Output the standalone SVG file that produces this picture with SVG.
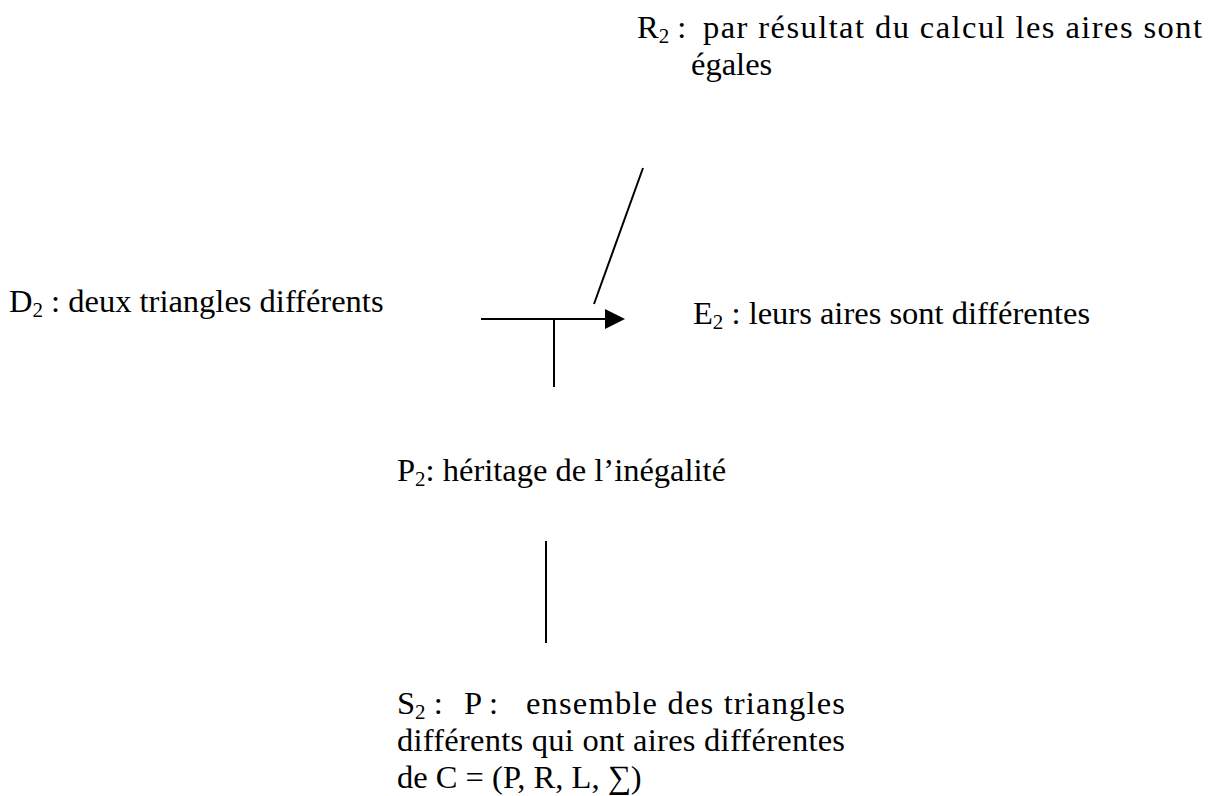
<svg xmlns="http://www.w3.org/2000/svg" width="1211" height="796" viewBox="0 0 1211 796">
<style>
text{font-family:"Liberation Serif","Times New Roman",serif;font-size:32.5px;fill:#000}
.sub{font-size:21px}
.ln{stroke:#000;stroke-width:2;fill:none}
</style>
<rect width="1211" height="796" fill="#fff"/>
<g id="connectors">
<line class="ln" x1="481" y1="319" x2="606" y2="319"/>
<path d="M605,309 L625,319 L605,329 Z" fill="#000"/>
<line class="ln" x1="554" y1="319" x2="554" y2="387"/>
<line class="ln" x1="643" y1="168" x2="594" y2="304"/>
<line class="ln" x1="546" y1="541" x2="546" y2="643"/>
</g>
<g id="R2">
<text x="637" y="38">R<tspan class="sub" dy="5">2</tspan><tspan dy="-5"> :</tspan></text>
<text x="703" y="38" textLength="499" lengthAdjust="spacing">par résultat du calcul les aires sont</text>
<text x="691" y="75">égales</text>
</g>
<g id="D2">
<text x="9" y="312">D<tspan class="sub" dy="5">2</tspan><tspan dy="-5"> : deux triangles différents</tspan></text>
</g>
<g id="E2">
<text x="693" y="324">E<tspan class="sub" dy="5">2</tspan><tspan dy="-5"> : leurs aires sont différentes</tspan></text>
</g>
<g id="P2">
<text x="397" y="481">P<tspan class="sub" dy="5">2</tspan><tspan dy="-5">: héritage de l’inégalité</tspan></text>
</g>
<g id="S2">
<text x="397" y="714">S<tspan class="sub" dy="5">2</tspan><tspan dy="-5"> :</tspan></text>
<text x="464" y="714">P :</text>
<text x="526" y="714" textLength="319" lengthAdjust="spacing">ensemble des triangles</text>
<text x="397" y="751" textLength="448" lengthAdjust="spacing">différents qui ont aires différentes</text>
<text x="397" y="788">de C = (P, R, L, ∑)</text>
</g>
</svg>
